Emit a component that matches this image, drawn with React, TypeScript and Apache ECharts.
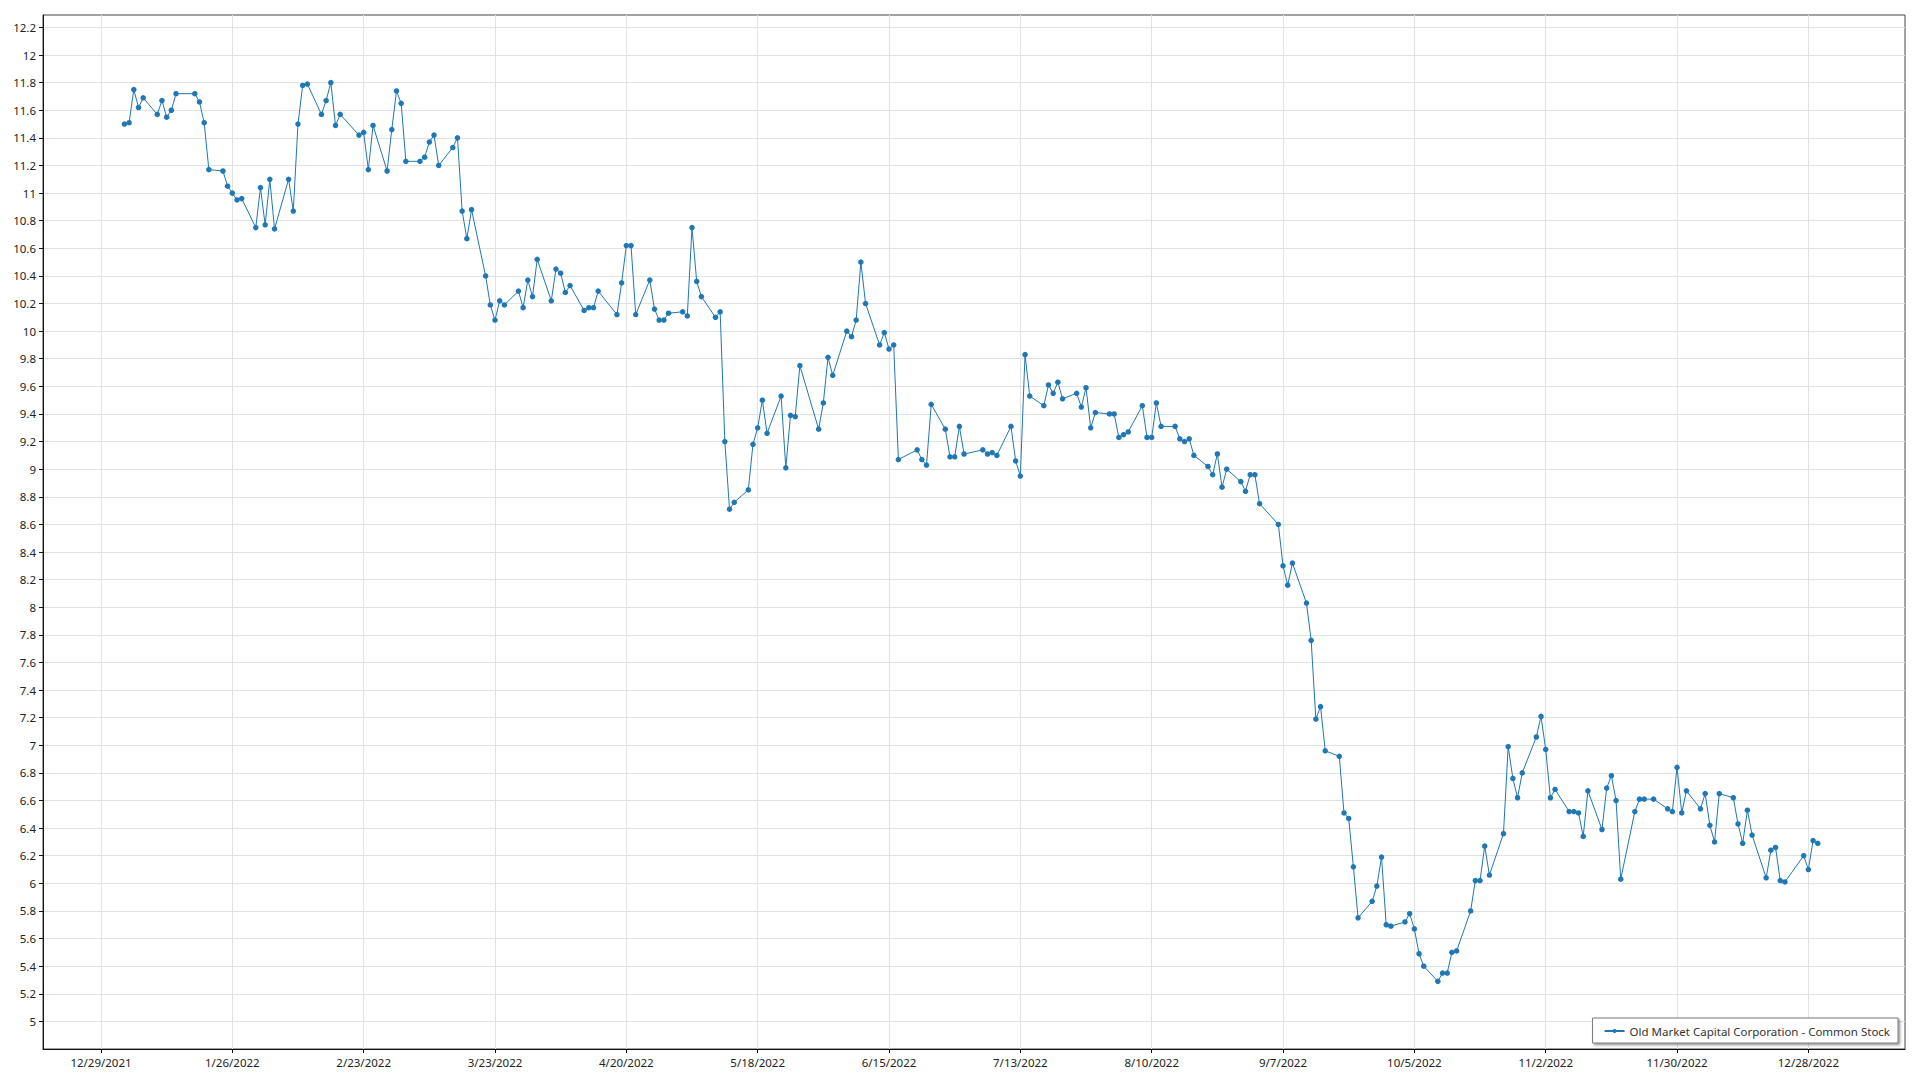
import React, { useEffect, useRef } from "react";
import * as echarts from "echarts";

const SERIES_NAME = "Old Market Capital Corporation - Common Stock";
const YEAR = 2022;

// [day of month, closing price]
const jan = [[3, 11.5], [4, 11.51], [5, 11.75], [6, 11.62], [7, 11.69], [10, 11.57], [11, 11.67], [12, 11.55], [13, 11.6], [14, 11.72], [18, 11.72], [19, 11.66], [20, 11.51], [21, 11.17], [24, 11.16], [25, 11.05], [26, 11.0], [27, 10.95], [28, 10.96], [31, 10.75]];
const feb = [[1, 11.04], [2, 10.77], [3, 11.1], [4, 10.74], [7, 11.1], [8, 10.87], [9, 11.5], [10, 11.78], [11, 11.79], [14, 11.57], [15, 11.67], [16, 11.8], [17, 11.49], [18, 11.57], [22, 11.42], [23, 11.44], [24, 11.17], [25, 11.49], [28, 11.16]];
const mar = [[1, 11.46], [2, 11.74], [3, 11.65], [4, 11.23], [7, 11.23], [8, 11.26], [9, 11.37], [10, 11.42], [11, 11.2], [14, 11.33], [15, 11.4], [16, 10.87], [17, 10.67], [18, 10.88], [21, 10.4], [22, 10.19], [23, 10.08], [24, 10.22], [25, 10.19], [28, 10.29], [29, 10.17], [30, 10.37], [31, 10.25]];
const apr = [[1, 10.52], [4, 10.22], [5, 10.45], [6, 10.42], [7, 10.28], [8, 10.33], [11, 10.15], [12, 10.17], [13, 10.17], [14, 10.29], [18, 10.12], [19, 10.35], [20, 10.62], [21, 10.62], [22, 10.12], [25, 10.37], [26, 10.16], [27, 10.08], [28, 10.08], [29, 10.13]];
const may = [[2, 10.14], [3, 10.11], [4, 10.75], [5, 10.36], [6, 10.25], [9, 10.1], [10, 10.14], [11, 9.2], [12, 8.71], [13, 8.76], [16, 8.85], [17, 9.18], [18, 9.3], [19, 9.5], [20, 9.26], [23, 9.53], [24, 9.01], [25, 9.39], [26, 9.38], [27, 9.75], [31, 9.29]];
const jun = [[1, 9.48], [2, 9.81], [3, 9.68], [6, 10.0], [7, 9.96], [8, 10.08], [9, 10.5], [10, 10.2], [13, 9.9], [14, 9.99], [15, 9.87], [16, 9.9], [17, 9.07], [21, 9.14], [22, 9.07], [23, 9.03], [24, 9.47], [27, 9.29], [28, 9.09], [29, 9.09], [30, 9.31]];
const jul = [[1, 9.11], [5, 9.14], [6, 9.11], [7, 9.12], [8, 9.1], [11, 9.31], [12, 9.06], [13, 8.95], [14, 9.83], [15, 9.53], [18, 9.46], [19, 9.61], [20, 9.55], [21, 9.63], [22, 9.51], [25, 9.55], [26, 9.45], [27, 9.59], [28, 9.3], [29, 9.41]];
const aug = [[1, 9.4], [2, 9.4], [3, 9.23], [4, 9.25], [5, 9.27], [8, 9.46], [9, 9.23], [10, 9.23], [11, 9.48], [12, 9.31], [15, 9.31], [16, 9.22], [17, 9.2], [18, 9.22], [19, 9.1], [22, 9.02], [23, 8.96], [24, 9.11], [25, 8.87], [26, 9.0], [29, 8.91], [30, 8.84], [31, 8.96]];
const sep = [[1, 8.96], [2, 8.75], [6, 8.6], [7, 8.3], [8, 8.16], [9, 8.32], [12, 8.03], [13, 7.76], [14, 7.19], [15, 7.28], [16, 6.96], [19, 6.92], [20, 6.51], [21, 6.47], [22, 6.12], [23, 5.75], [26, 5.87], [27, 5.98], [28, 6.19], [29, 5.7], [30, 5.69]];
const oct = [[3, 5.72], [4, 5.78], [5, 5.67], [6, 5.49], [7, 5.4], [10, 5.29], [11, 5.35], [12, 5.35], [13, 5.5], [14, 5.51], [17, 5.8], [18, 6.02], [19, 6.02], [20, 6.27], [21, 6.06], [24, 6.36], [25, 6.99], [26, 6.76], [27, 6.62], [28, 6.8], [31, 7.06]];
const nov = [[1, 7.21], [2, 6.97], [3, 6.62], [4, 6.68], [7, 6.52], [8, 6.52], [9, 6.51], [10, 6.34], [11, 6.67], [14, 6.39], [15, 6.69], [16, 6.78], [17, 6.6], [18, 6.03], [21, 6.52], [22, 6.61], [23, 6.61], [25, 6.61], [28, 6.54], [29, 6.52], [30, 6.84]];
const dec = [[1, 6.51], [2, 6.67], [5, 6.54], [6, 6.65], [7, 6.42], [8, 6.3], [9, 6.65], [12, 6.62], [13, 6.43], [14, 6.29], [15, 6.53], [16, 6.35], [19, 6.04], [20, 6.24], [21, 6.26], [22, 6.02], [23, 6.01], [27, 6.2], [28, 6.1], [29, 6.31], [30, 6.29]];

const months = [jan, feb, mar, apr, may, jun, jul, aug, sep, oct, nov, dec];

const xTickLabels = ["12/29/2021", "1/26/2022", "2/23/2022", "3/23/2022", "4/20/2022", "5/18/2022", "6/15/2022", "7/13/2022", "8/10/2022", "9/7/2022", "10/5/2022", "11/2/2022", "11/30/2022", "12/28/2022"];
const yTickValues = [5, 5.2, 5.4, 5.6, 5.8, 6, 6.2, 6.4, 6.6, 6.8, 7, 7.2, 7.4, 7.6, 7.8, 8, 8.2, 8.4, 8.6, 8.8, 9, 9.2, 9.4, 9.6, 9.8, 10, 10.2, 10.4, 10.6, 10.8, 11, 11.2, 11.4, 11.6, 11.8, 12, 12.2];

const DAY = 86400000;
const EPOCH = Date.UTC(2021, 11, 29);
const dayNumber = (y: number, m: number, d: number) => (Date.UTC(y, m, d) - EPOCH) / DAY;
const parseLabel = (s: string) => {
  const [m, d, y] = s.split("/").map(Number);
  return dayNumber(y, m - 1, d);
};
const formatDay = (v: number) => {
  const dt = new Date(EPOCH + Math.round(v) * DAY);
  return `${dt.getUTCMonth() + 1}/${dt.getUTCDate()}/${dt.getUTCFullYear()}`;
};

const points = months.flatMap((m, i) => m.map(([d, v]) => [dayNumber(YEAR, i, d), v]));
const xTicks = xTickLabels.map(parseLabel);

const FONT = "Noto Sans";
const FS = 11.5;

export default function App() {
  const ref = useRef<HTMLDivElement>(null);
  useEffect(() => {
    if (!ref.current) return;
    const chart = echarts.init(ref.current, null, { renderer: "svg" });
    chart.setOption({
      animation: false,
      backgroundColor: "#ffffff",
      textStyle: { fontFamily: FONT },
      grid: {
        left: 43,
        right: 15,
        top: 15,
        bottom: 31,
        show: true,
        borderColor: "#444",
        borderWidth: 1,
        containLabel: false,
      },
      legend: {
        show: true,
        right: 22,
        bottom: 37,
        orient: "horizontal",
        backgroundColor: "#ffffff",
        borderColor: "#7a7a7a",
        borderWidth: 1,
        padding: [7, 8, 6, 11],
        shadowColor: "rgba(0,0,0,0.45)",
        shadowBlur: 2,
        shadowOffsetX: 1.5,
        shadowOffsetY: 1.5,
        itemWidth: 20,
        itemHeight: 5,
        textStyle: { fontFamily: FONT, fontSize: FS, color: "#333" },
        data: [SERIES_NAME],
      },
      xAxis: {
        type: "value",
        min: -12.36,
        max: 384.6,
        axisLine: { show: true, onZero: false, lineStyle: { color: "#111", width: 1 } },
        axisTick: { show: true, length: 4, customValues: xTicks, lineStyle: { color: "#111" } },
        axisLabel: {
          customValues: xTicks,
          formatter: (v: number) => formatDay(v),
          fontFamily: FONT,
          fontSize: FS,
          color: "#222",
          margin: 7,
        },
        splitLine: { show: true, lineStyle: { color: "#e2e2e2", width: 1 } },
      },
      yAxis: {
        type: "value",
        min: 4.8,
        max: 12.29,
        axisLine: { show: true, onZero: false, lineStyle: { color: "#111", width: 1 } },
        axisTick: { show: true, length: 4, customValues: yTickValues, lineStyle: { color: "#111" } },
        axisLabel: {
          customValues: yTickValues,
          fontFamily: FONT,
          fontSize: FS,
          color: "#222",
          margin: 7,
        },
        splitLine: { show: true, lineStyle: { color: "#e2e2e2", width: 1 } },
      },
      series: [
        {
          name: SERIES_NAME,
          type: "line",
          data: points,
          symbol: "circle",
          symbolSize: 5.5,
          showAllSymbol: true,
          lineStyle: { color: "#1f77b4", width: 1 },
          itemStyle: { color: "#1f77b4" },
          silent: true,
        },
      ],
    });
    return () => chart.dispose();
  }, []);
  return (
    <div
      ref={ref}
      style={{ position: "fixed", left: 0, top: 0, width: 1920, height: 1080, background: "#fff" }}
    />
  );
}
